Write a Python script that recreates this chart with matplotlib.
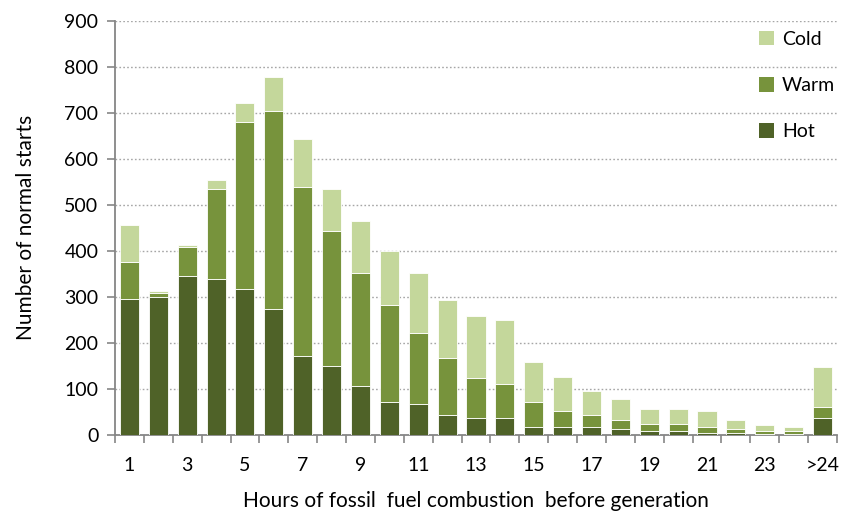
import matplotlib.pyplot as plt
import numpy as np
from matplotlib.patches import Patch
from matplotlib.ticker import FixedLocator

plt.rcParams["font.family"] = ["Lato", "DejaVu Sans"]

# hours of fossil fuel combustion before generation (1..24, >24)
categories = [str(h) for h in range(1, 25)] + [">24"]
hot = [295, 299, 345, 338, 318, 274, 171, 150, 107, 72, 68, 44, 37, 37,
       17, 17, 17, 13, 9, 9, 5, 5, 2, 2, 37]
warm = [81, 10, 63, 196, 362, 430, 367, 294, 245, 210, 153, 123, 87, 74,
        55, 35, 26, 20, 15, 15, 12, 8, 7, 7, 23]
cold = [80, 4, 4, 21, 41, 73, 104, 91, 112, 118, 131, 126, 134, 139,
        87, 75, 53, 46, 32, 32, 35, 20, 12, 8, 88]
tick_labels = ["1", "3", "5", "7", "9", "11", "13", "15", "17", "19", "21", "23", ">24"]

COL_HOT = "#4f6228"
COL_WARM = "#77933c"
COL_COLD = "#c4d79b"
AXIS_GREY = "#868686"

fig = plt.figure(figsize=(8.42, 5.14), dpi=100)
ax = fig.add_axes([0.1366, 0.1537, 0.8574, 0.806])

x = np.arange(len(categories))
w = 0.66
hot_a = np.array(hot)
warm_a = np.array(warm)
cold_a = np.array(cold)
ax.bar(x, hot_a, w, color=COL_HOT, edgecolor="white", linewidth=0.6, zorder=3)
ax.bar(x, warm_a, w, bottom=hot_a, color=COL_WARM, edgecolor="white", linewidth=0.6, zorder=3)
ax.bar(x, cold_a, w, bottom=hot_a + warm_a, color=COL_COLD, edgecolor="white", linewidth=0.6, zorder=3)

ax.set_xlim(-0.5, len(categories) - 0.5)
ax.set_ylim(0, 900)
ax.set_yticks(np.arange(0, 901, 100))
ax.yaxis.grid(True, color="#a6a6a6", linestyle=(0, (1.2, 1.6)), linewidth=1.0, zorder=0)

# tick marks at category boundaries, labels on every other category
ax.xaxis.set_major_locator(FixedLocator(np.arange(-0.5, len(categories), 1.0)))
ax.xaxis.set_minor_locator(FixedLocator(x[::2]))
ax.set_xticklabels([], minor=False)
ax.set_xticklabels(tick_labels, minor=True)
ax.tick_params(axis="x", which="major", length=6, width=1.2, color=AXIS_GREY)
ax.tick_params(axis="x", which="minor", length=0, pad=16, labelsize=14)
ax.tick_params(axis="y", length=6, width=1.2, color=AXIS_GREY, labelsize=14, pad=6)

for s in ("top", "right"):
    ax.spines[s].set_visible(False)
for s in ("left", "bottom"):
    ax.spines[s].set_color(AXIS_GREY)
    ax.spines[s].set_linewidth(1.3)

ax.set_ylabel("Number of normal starts", fontsize=15, labelpad=20)
ax.set_xlabel("Hours of fossil  fuel combustion  before generation", fontsize=15, labelpad=12)

handles = [Patch(facecolor=COL_COLD, label="Cold"),
           Patch(facecolor=COL_WARM, label="Warm"),
           Patch(facecolor=COL_HOT, label="Hot")]
ax.legend(handles=handles, loc="upper left", bbox_to_anchor=(0.881, 0.995),
          frameon=False, fontsize=14, handlelength=0.8, handleheight=0.8,
          handletextpad=0.4, labelspacing=1.5, borderaxespad=0.0)

fig.savefig("out.png", dpi=100)
